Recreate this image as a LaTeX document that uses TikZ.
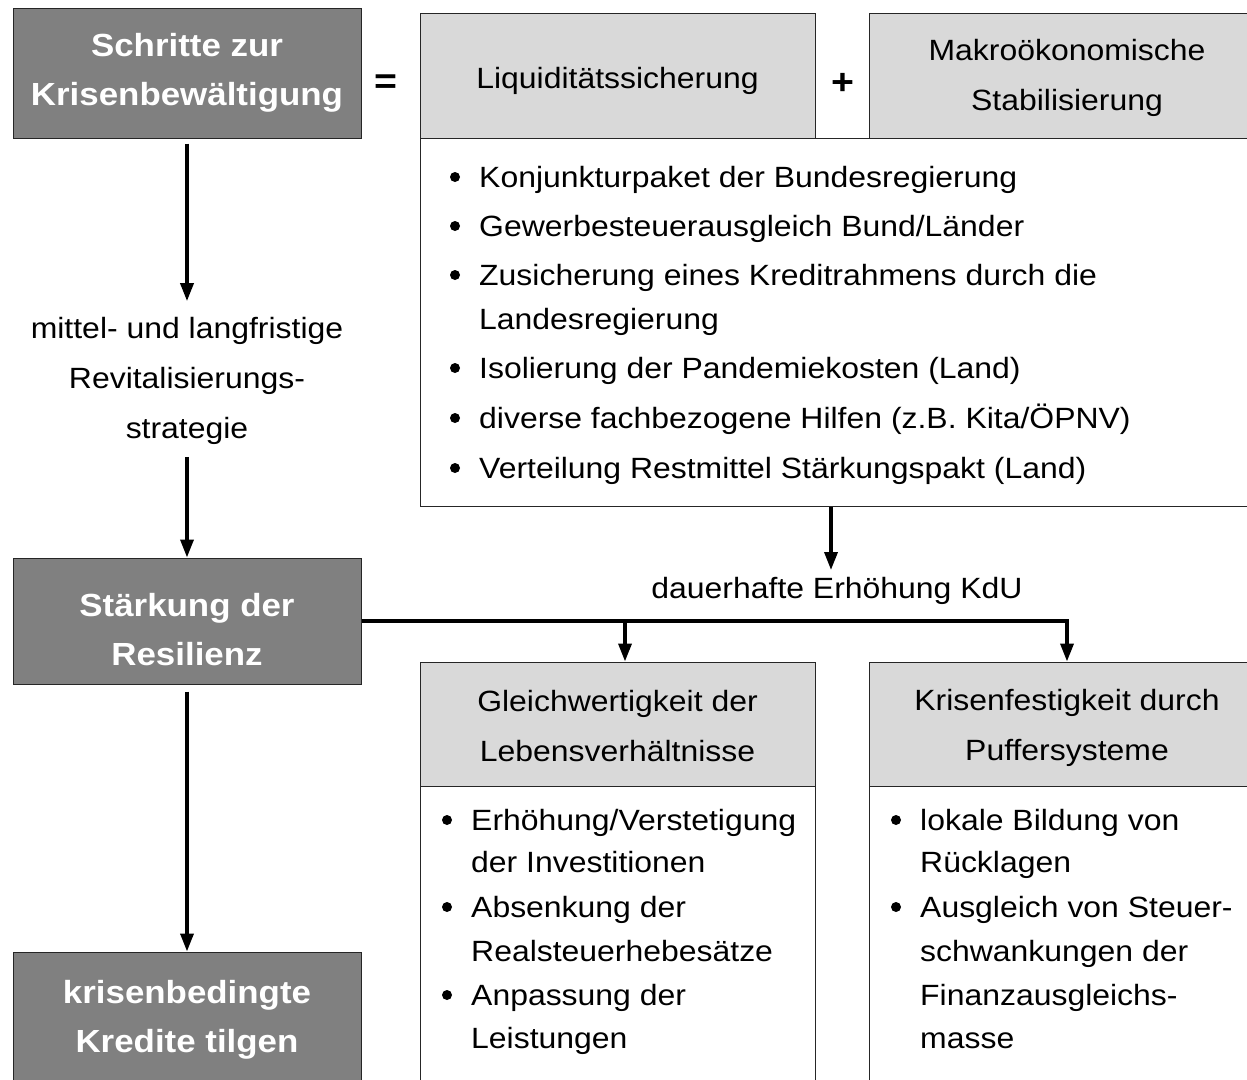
\documentclass[tikz,border=0pt]{standalone}
\usepackage{fontspec}
\setmainfont{Liberation Sans}[FakeStretch=1.09]
\usetikzlibrary{arrows.meta}
\definecolor{darkbox}{HTML}{808080}
\definecolor{lightbox}{HTML}{D9D9D9}
\begin{document}
\begin{tikzpicture}[x=1pt,y=-1pt,
  box/.style={draw=black!85,line width=1pt,rectangle,inner sep=0pt,align=center},
  dark/.style={box,fill=darkbox,text=white,font=\bfseries\fontsize{32}{49}\selectfont},
  light/.style={box,fill=lightbox,font=\fontsize{29.3}{50}\selectfont},
  plain/.style={box,fill=white},
  txt/.style={inner sep=0pt,font=\fontsize{29.3}{49}\selectfont},
  sym/.style={inner sep=0pt,font=\bfseries\fontsize{36}{36}\selectfont},
  dot/.style={circle,fill=black,inner sep=0pt,minimum size=10pt},
  arr/.style={line width=3.5pt,-{Triangle[width=13pt,length=18pt]}}]
\useasboundingbox (0,0) rectangle (1247,1079);
\fill[white] (0,0) rectangle (1247,1079);

% top row
\node[dark,minimum width=348pt,minimum height=130pt] (schritte) at (187,73) {Schritte zur\\Krisenbewältigung};
\node[sym] (eq) at (386,84) {=};
\node[light,minimum width=395pt,minimum height=125pt] (liq) at (617.5,75.5) {\rule{0pt}{32pt}Liquiditätssicherung};
\node[sym] (plus) at (843,84) {+};
\node[light,minimum width=396pt,minimum height=125pt] (makro) at (1067,75.5) {\rule{0pt}{26pt}Makroökonomische\\Stabilisierung};
\node[plain,minimum width=845pt,minimum height=368pt] (mass) at (842.5,322) {};

% measures list
\node[dot] (b1) at (455,177) {};
\node[txt,anchor=base west] (t1) at (479,187) {Konjunkturpaket der Bundesregierung};
\node[dot] (b2) at (455,226) {};
\node[txt,anchor=base west] (t2) at (479,236) {Gewerbesteuerausgleich Bund/Länder};
\node[dot] (b3) at (455,275) {};
\node[txt,anchor=base west] (t3) at (479,285) {Zusicherung eines Kreditrahmens durch die};
\node[txt,anchor=base west] (t3b) at (479,329) {Landesregierung};
\node[dot] (b4) at (455,368) {};
\node[txt,anchor=base west] (t4) at (479,378) {Isolierung der Pandemiekosten (Land)};
\node[dot] (b5) at (455,418) {};
\node[txt,anchor=base west] (t5) at (479,428) {diverse fachbezogene Hilfen (z.B. Kita/ÖPNV)};
\node[dot] (b6) at (455,468) {};
\node[txt,anchor=base west] (t6) at (479,478) {Verteilung Restmittel Stärkungspakt (Land)};

% left column
\node[txt,align=center,font=\fontsize{29.3}{50}\selectfont] (strat) at (187,381) {mittel- und langfristige\\Revitalisierungs-\\strategie};
\node[dark,minimum width=348pt,minimum height=126pt] (staerk) at (187,621) {\rule{0pt}{39.5pt}Stärkung der\\Resilienz};
\node[dark,minimum width=348pt,minimum height=130pt] (kredit) at (187,1017) {\rule{0pt}{28.5pt}krisenbedingte\\Kredite tilgen};

% lower right
\node[txt] (kdu) at (837,591) {dauerhafte Erhöhung KdU};
\node[light,minimum width=395pt,minimum height=124pt] (gleich) at (617.5,724) {\rule{0pt}{24.5pt}Gleichwertigkeit der\\Lebensverhältnisse};
\node[plain,minimum width=395pt,minimum height=297pt,anchor=north] (gleichL) at (617.5,786) {};
\node[light,minimum width=396pt,minimum height=124pt] (krisen) at (1067,724) {\rule{0pt}{29.5pt}Krisenfestigkeit durch\\Puffersysteme};
\node[plain,minimum width=396pt,minimum height=297pt,anchor=north] (krisenL) at (1067,786) {};

\node[dot] (b7) at (447,820) {};
\node[txt,anchor=base west] (t7) at (471,830) {Erhöhung/Verstetigung};
\node[txt,anchor=base west] (t7b) at (471,872) {der Investitionen};
\node[dot] (b8) at (447,907) {};
\node[txt,anchor=base west] (t8) at (471,917) {Absenkung der};
\node[txt,anchor=base west] (t8b) at (471,961) {Realsteuerhebesätze};
\node[dot] (b9) at (447,995) {};
\node[txt,anchor=base west] (t9) at (471,1005) {Anpassung der};
\node[txt,anchor=base west] (t9b) at (471,1048) {Leistungen};

\node[dot] (b10) at (896,820) {};
\node[txt,anchor=base west] (t10) at (920,830) {lokale Bildung von};
\node[txt,anchor=base west] (t10b) at (920,872) {Rücklagen};
\node[dot] (b11) at (896,907) {};
\node[txt,anchor=base west] (t11) at (920,917) {Ausgleich von Steuer-};
\node[txt,anchor=base west] (t11b) at (920,961) {schwankungen der};
\node[txt,anchor=base west] (t11c) at (920,1005) {Finanzausgleichs-};
\node[txt,anchor=base west] (t11d) at (920,1048) {masse};

% connectors
\draw[arr,shorten <=5pt,shorten >=16pt] (schritte.south) -- (strat.north);
\draw[arr,shorten <=12pt] (strat.south) -- (staerk.north);
\draw[arr,shorten <=7pt] (staerk.south) -- (kredit.north);
\coordinate (kdutip) at (831,570);
\draw[arr] (kdutip |- mass.south) -- (kdutip);
\draw[arr] (staerk.east) -| (krisen.north);
\coordinate (fork) at (625,621);
\draw[arr] (fork) -- (fork |- gleich.north);
\end{tikzpicture}
\end{document}
